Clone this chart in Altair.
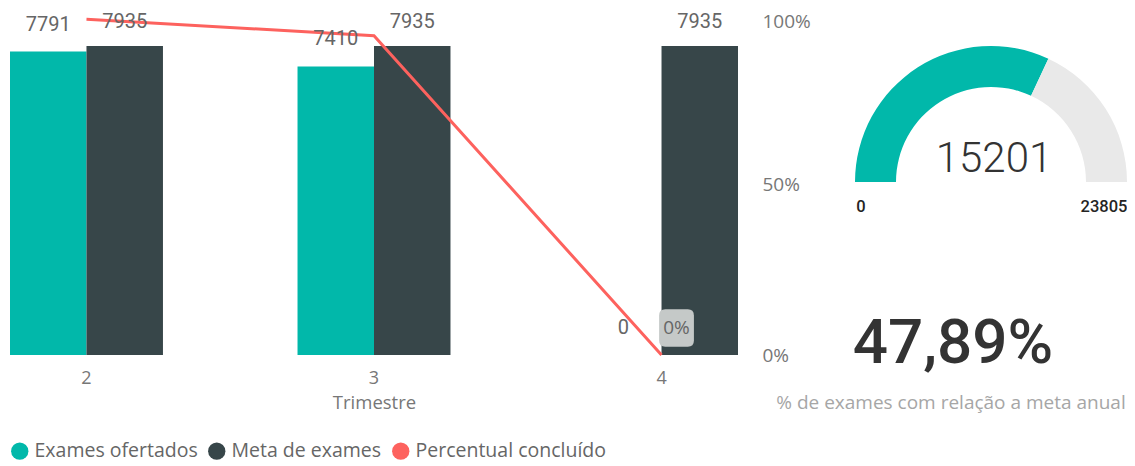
import math
import altair as alt
import pandas as pd

# ---------------- data ----------------
trimestres = ["2", "3", "4"]
exames_ofertados = [7791, 7410, 0]
meta_exames = [7935, 7935, 7935]
percentual_concluido = [0.9819, 0.9338, 0.0]

series_names = ["Exames ofertados", "Meta de exames", "Percentual concluído"]
series_colors = ["#01B8AA", "#374649", "#FD625E"]

gauge_valor = 15201
gauge_max = 23805
gauge_min = 0
kpi_texto = "47,89%"
kpi_legenda = "% de exames com relação a meta anual"

# ---------------- tables ----------------
bars_df = pd.DataFrame(
    [{"Trimestre": t, "serie": series_names[0], "valor": v} for t, v in zip(trimestres, exames_ofertados)]
    + [{"Trimestre": t, "serie": series_names[1], "valor": v} for t, v in zip(trimestres, meta_exames)]
)
line_df = pd.DataFrame(
    {"Trimestre": trimestres, "serie": series_names[2], "pct": percentual_concluido}
)
gauge_df = pd.DataFrame(
    {"parte": ["valor", "resto"], "v": [gauge_valor, gauge_max - gauge_valor], "ord": [0, 1]}
)

FONT = "Open Sans"
NUMFONT = "Roboto"
W, H = 728, 342
BAR_MAX = 8782

x_enc = alt.X(
    "Trimestre:N",
    sort=trimestres,
    scale=alt.Scale(paddingInner=0.468, paddingOuter=0),
    axis=alt.Axis(
        labelAngle=0, labelFontSize=18, labelColor="#777777", labelFont=FONT,
        labelPadding=14, ticks=False, domain=False, grid=False,
        title="Trimestre", titleFontSize=18.5, titleColor="#777777", titleFont=FONT,
        titleFontWeight="normal", titlePadding=6,
    ),
)
color_enc = alt.Color(
    "serie:N",
    scale=alt.Scale(domain=series_names, range=series_colors),
    legend=alt.Legend(
        title=None, orient="none", legendX=0, legendY=428, direction="horizontal",
        symbolType="circle", symbolSize=300, symbolStrokeWidth=0,
        labelFontSize=19.5, labelColor="#666666", labelFont=FONT, labelLimit=0,
        labelOffset=5, columnPadding=9, padding=0,
    ),
)
ybar = alt.Y("valor:Q", scale=alt.Scale(domain=[0, BAR_MAX], nice=False), axis=None)
xoff = alt.XOffset("serie:N", sort=series_names[:2], scale=alt.Scale(paddingInner=0, paddingOuter=0))

bars = alt.Chart(bars_df).mark_bar().encode(
    x=x_enc, xOffset=xoff, y=ybar, color=color_enc
)

lbl_teal = alt.Chart(bars_df).transform_filter(
    alt.datum.serie == series_names[0]
).mark_text(fontSize=20, font=NUMFONT, color="#666666", baseline="middle", dy=-27).encode(
    x=alt.X("Trimestre:N", sort=trimestres), xOffset=xoff, y=ybar, text="valor:Q"
)
lbl_dark = alt.Chart(bars_df).transform_filter(
    alt.datum.serie == series_names[1]
).mark_text(fontSize=20, font=NUMFONT, color="#666666", baseline="middle", dy=-24).encode(
    x=alt.X("Trimestre:N", sort=trimestres), xOffset=xoff, y=ybar, text="valor:Q"
)

yline = alt.Y(
    "pct:Q",
    scale=alt.Scale(domain=[0, 1], nice=False),
    axis=alt.Axis(
        orient="right", values=[0, 0.5, 1], format=".0%", labelAlign="left",
        labelPadding=24, ticks=False, domain=False, grid=False, labelFlush=False,
        labelOffset={"condition": {"test": "datum.value == 1", "value": 8}, "value": 0},
        labelFontSize=19, labelColor="#777777", labelFont=FONT, title=None,
    ),
)
line = alt.Chart(line_df).mark_line(strokeWidth=3).encode(
    x=alt.X("Trimestre:N", sort=trimestres), y=yline, color=color_enc
)

ypct_noaxis = alt.Y("pct:Q", scale=alt.Scale(domain=[0, 1], nice=False), axis=None)
box_path = ("M -0.6,-1 L 0.6,-1 Q 0.93,-1 0.93,-0.67 L 0.93,0.67 Q 0.93,1 0.6,1 "
            "L -0.6,1 Q -0.93,1 -0.93,0.67 L -0.93,-0.67 Q -0.93,-1 -0.6,-1 Z")
line_box = alt.Chart(line_df).transform_filter(alt.datum.Trimestre == "4").mark_point(
    shape=box_path, filled=True, size=1400, fill="#C5C9C8", opacity=1, xOffset=15, yOffset=-27
).encode(x=alt.X("Trimestre:N", sort=trimestres), y=ypct_noaxis)
line_lbl = alt.Chart(line_df).transform_filter(alt.datum.Trimestre == "4").mark_text(
    fontSize=19, font=FONT, color="#666666", xOffset=15, yOffset=-27, baseline="middle"
).encode(x=alt.X("Trimestre:N", sort=trimestres), y=ypct_noaxis, text=alt.Text("pct:Q", format=".0%"))

# ---------------- gauge ----------------
GX, GY = 981, 169
gauge = alt.Chart(gauge_df).mark_arc(radius=136, radius2=95).encode(
    theta=alt.Theta("v:Q", stack=True,
                    scale=alt.Scale(domain=[0, gauge_max], range=[-math.pi / 2, math.pi / 2])),
    order=alt.Order("ord:Q"),
    fill=alt.condition("datum.parte == 'valor'", alt.value("#01B8AA"), alt.value("#E9E9E9")),
    x=alt.value(GX), y=alt.value(GY),
)

def txt(value, x, y, size, color, font, weight="normal"):
    return alt.Chart(pd.DataFrame({"t": [value]})).mark_text(
        fontSize=size, color=color, font=font, fontWeight=weight, align="center", baseline="middle"
    ).encode(text="t:N", x=alt.value(x), y=alt.value(y))

g_val = txt(str(gauge_valor), GX + 3, 146, 42, "#333333", NUMFONT, 300)
g_min = txt(str(gauge_min), 851, 194, 16.5, "#252423", NUMFONT, 500)
g_max = txt(str(gauge_max), 1094, 194, 16.5, "#252423", NUMFONT, 500)
kpi = txt(kpi_texto, 943, 331, 62, "#333333", NUMFONT, 500)
kpi_sub = txt(kpi_legenda, 941, 390, 19, "#A6A6A6", FONT)

chart = alt.layer(
    bars, line, line_box, lbl_teal, lbl_dark, line_lbl,
    gauge, g_val, g_min, g_max, kpi, kpi_sub,
).resolve_scale(y="independent").properties(
    width=W, height=H,
    autosize=alt.AutoSizeParams(type="none"),
    padding={"left": 2, "top": 5, "right": 389, "bottom": 108},
).configure(background="white").configure_view(stroke=None)

chart.save("out.html", embed_options={"renderer": "svg", "actions": False})
